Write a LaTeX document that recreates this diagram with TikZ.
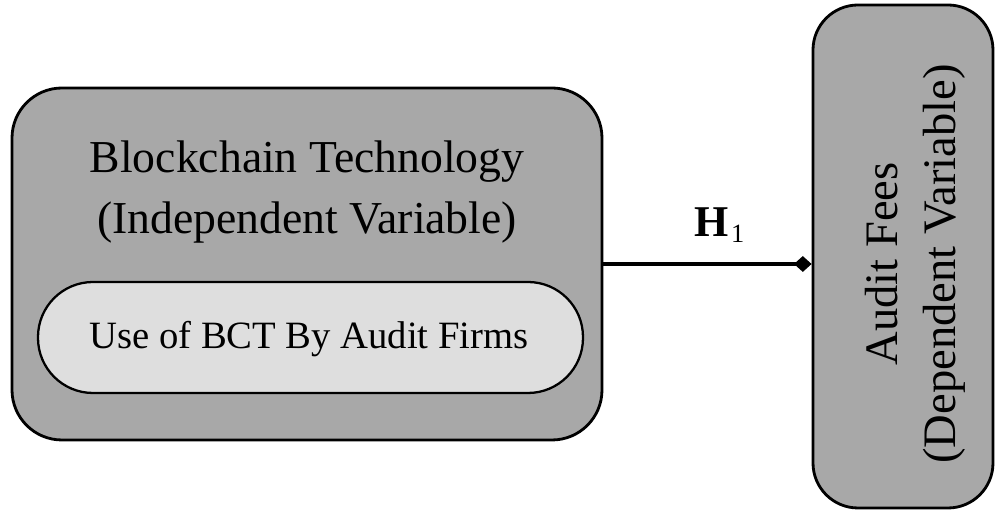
\documentclass[tikz,border=0pt]{standalone}
\usepackage{fontspec}
\setmainfont{Liberation Serif}
\usetikzlibrary{arrows.meta}
\usetikzlibrary{positioning}
\definecolor{outergray}{gray}{0.66}
\definecolor{innergray}{gray}{0.87}
\tikzset{box/.style = {draw, line width = 1.6pt, rounded corners = 1cm, fill = outergray, inner sep = 0},
  pill/.style = {draw, line width = 1.3pt, rounded corners = 1.1cm, fill = innergray, inner sep = 0},
  label/.style = {font = \fontsize{26}{35}\selectfont, align = center}}

\begin{document}
\begin{tikzpicture}
      \useasboundingbox (0, 0) rectangle (20.02, 10.28);

      \node [box, minimum width = 11.8cm, minimum height = 7.04cm] at (6.14, 5.0) (indep) {};
      \node [pill, minimum width = 10.9cm, minimum height = 2.22cm] at (6.21, 3.53) (use) {};
      \node [box, rounded corners = 0.9cm, minimum width = 3.6cm, minimum height = 10.06cm] at (18.06, 5.15) (dep) {};

      \node [label] at (6.14, 6.44) (indeptext) {Blockchain Technology\\(Independent Variable)};
      \node [font = \fontsize{22}{26}\selectfont] at (6.18, 3.5) (usetext) {Use of BCT By Audit Firms};
      \node [label, rotate = 90, font = \fontsize{26.5}{33}\selectfont] at (18.3, 5.0) (deptext) {Audit Fees\\(Dependent Variable)};

      \draw [line width = 1.8pt, -{Diamond[length = 10pt, width = 9pt]}] (indep.east) -- (indep.east -| dep.west);
      \node [anchor = base west, inner sep = 0] at (13.88, 5.54) (hyp) {\fontsize{25}{30}\selectfont\textbf{H}\hspace{1.5pt}\raisebox{-0.25ex}{\fontsize{15}{18}\selectfont 1}};
    \end{tikzpicture}
\end{document}
